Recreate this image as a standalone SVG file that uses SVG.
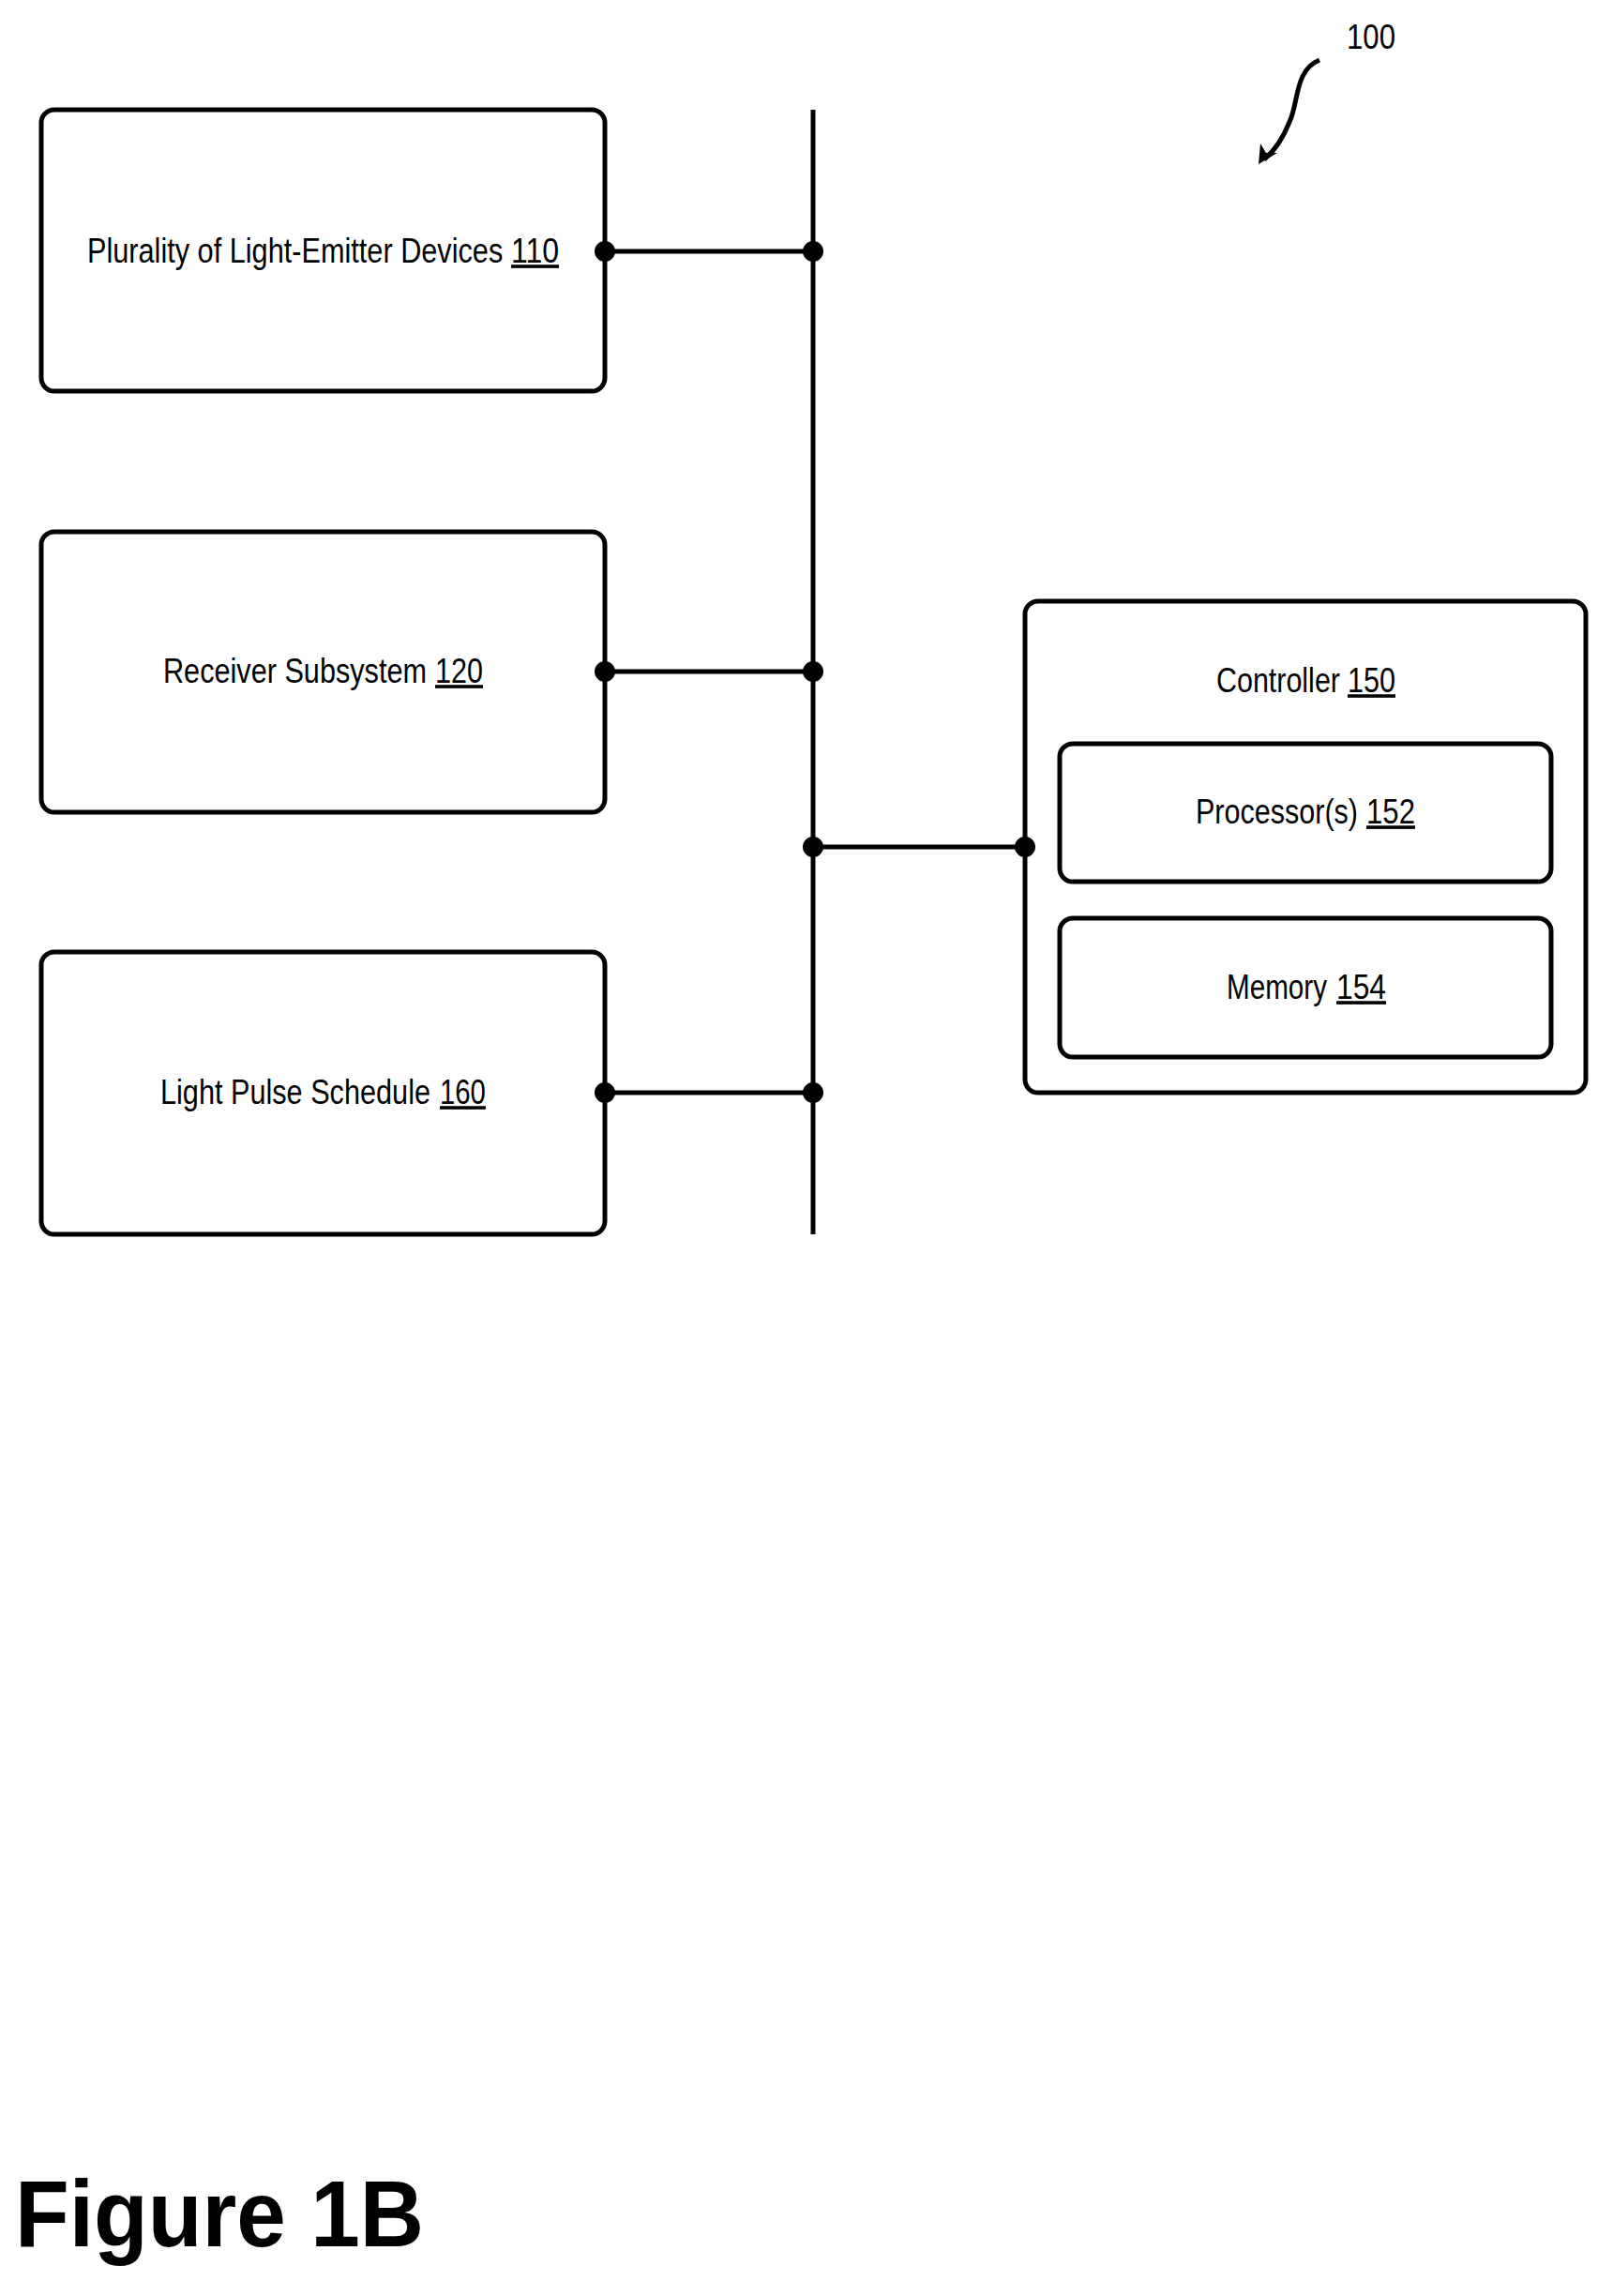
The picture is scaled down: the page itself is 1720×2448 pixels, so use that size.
<svg xmlns="http://www.w3.org/2000/svg" width="1720" height="2448" viewBox="0 0 1720 2448">
<style>
.box{fill:#fff;stroke:#000;stroke-width:5}
.ln{stroke:#000;stroke-width:5;fill:none}
.t{font-family:"Liberation Sans",Arial,sans-serif;font-size:36px;fill:#000}
.u{text-decoration:underline}
</style>
<rect width="1720" height="2448" fill="#fff"/>
<g id="n110"><rect class="box" x="44" y="117" width="601" height="300" rx="14"/>
<g transform="scale(0.75 1)"><text class="t" x="124" y="280" textLength="591" lengthAdjust="spacingAndGlyphs">Plurality of Light-Emitter Devices</text>
<text class="t u" x="726.7" y="280" textLength="68" lengthAdjust="spacingAndGlyphs">110</text></g></g>
<g id="n120"><rect class="box" x="44" y="567" width="601" height="299" rx="14"/>
<g transform="scale(0.75 1)"><text class="t" x="232" y="728" textLength="374.7" lengthAdjust="spacingAndGlyphs">Receiver Subsystem</text>
<text class="t u" x="618.7" y="728" textLength="68" lengthAdjust="spacingAndGlyphs">120</text></g></g>
<g id="n160"><rect class="box" x="44" y="1015" width="601" height="301" rx="14"/>
<g transform="scale(0.75 1)"><text class="t" x="228" y="1177" textLength="384" lengthAdjust="spacingAndGlyphs">Light Pulse Schedule</text>
<text class="t u" x="625.3" y="1177" textLength="65.3" lengthAdjust="spacingAndGlyphs">160</text></g></g>
<g id="n150"><rect class="box" x="1093" y="641" width="598" height="524" rx="14"/>
<g transform="scale(0.75 1)"><text class="t" x="1729.3" y="738" textLength="176" lengthAdjust="spacingAndGlyphs">Controller</text>
<text class="t u" x="1916" y="738" textLength="68" lengthAdjust="spacingAndGlyphs">150</text></g></g>
<g id="n152"><rect class="box" x="1130" y="793" width="524" height="147" rx="14"/>
<g transform="scale(0.75 1)"><text class="t" x="1700" y="878" textLength="230.7" lengthAdjust="spacingAndGlyphs">Processor(s)</text>
<text class="t u" x="1942.7" y="878" textLength="69.3" lengthAdjust="spacingAndGlyphs">152</text></g></g>
<g id="n154"><rect class="box" x="1130" y="979" width="524" height="148" rx="14"/>
<g transform="scale(0.75 1)"><text class="t" x="1744" y="1065" textLength="142.7" lengthAdjust="spacingAndGlyphs">Memory</text>
<text class="t u" x="1900" y="1065" textLength="70.7" lengthAdjust="spacingAndGlyphs">154</text></g></g>
<g id="connectors">
<line class="ln" x1="867" y1="117" x2="867" y2="1316"/>
<line class="ln" x1="645" y1="268" x2="867" y2="268"/>
<line class="ln" x1="645" y1="716" x2="867" y2="716"/>
<line class="ln" x1="645" y1="1165" x2="867" y2="1165"/>
<line class="ln" x1="867" y1="903" x2="1093" y2="903"/>
<g fill="#000">
<circle cx="645" cy="268" r="11"/><circle cx="867" cy="268" r="11"/>
<circle cx="645" cy="716" r="11"/><circle cx="867" cy="716" r="11"/>
<circle cx="645" cy="1165" r="11"/><circle cx="867" cy="1165" r="11"/>
<circle cx="867" cy="903" r="11"/><circle cx="1093" cy="903" r="11"/>
</g>
</g>
<g id="ref100">
<g transform="scale(0.75 1)"><text class="t" x="1914.7" y="52" textLength="69.3" lengthAdjust="spacingAndGlyphs">100</text></g>
<path class="ln" stroke-width="3" d="M1407,64 C1380,75 1385,110 1375,130 C1368,148 1360,160 1348,170"/>
<path d="M1342,175 L1344,153 L1350,163 L1362,163 Z" fill="#000"/>
</g>
<text x="16" y="2395" font-family="Liberation Sans,Arial,sans-serif" font-weight="bold" font-size="100" textLength="436" lengthAdjust="spacingAndGlyphs">Figure 1B</text>
</svg>
